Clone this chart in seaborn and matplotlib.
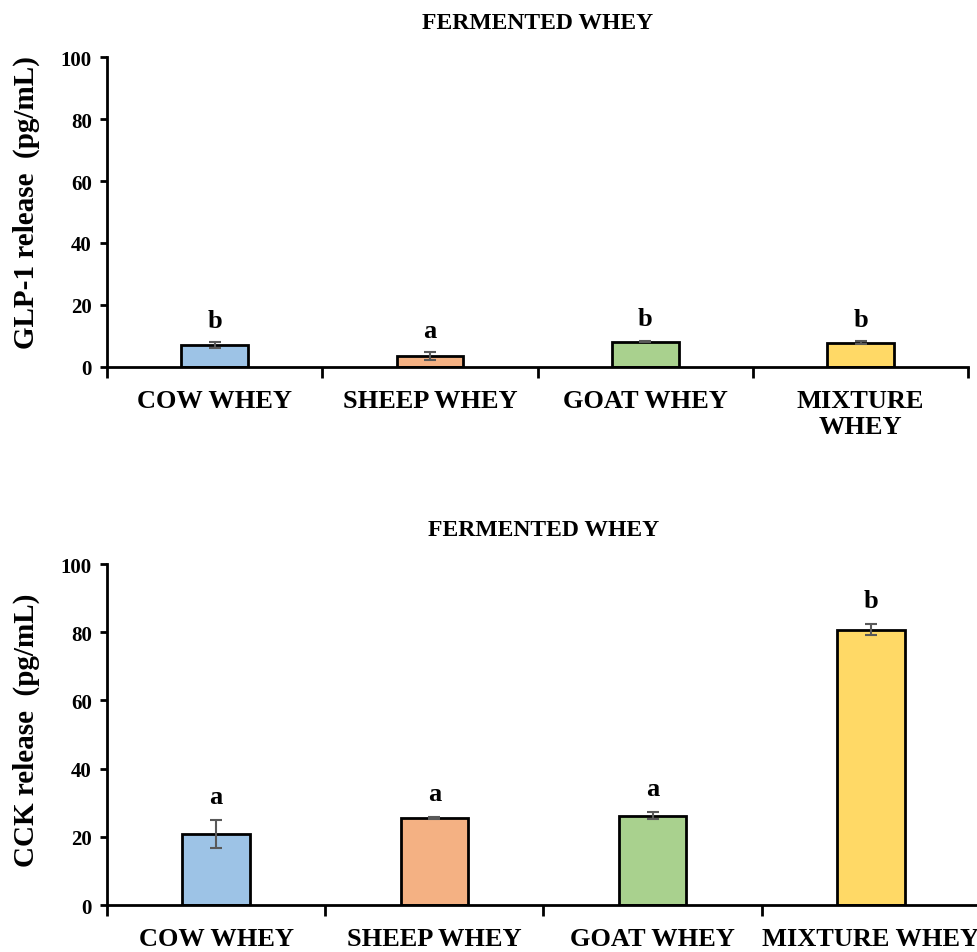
import matplotlib
matplotlib.use("Agg")
import matplotlib.pyplot as plt
import seaborn as sns
import pandas as pd
import numpy as np

categories = ["COW WHEY", "SHEEP WHEY", "GOAT WHEY", "MIXTURE WHEY"]
top_labels = ["COW WHEY", "SHEEP WHEY", "GOAT WHEY", "MIXTURE\nWHEY"]
glp1_mean = [7.1, 3.6, 8.2, 7.8]
glp1_err = [1.0, 1.3, 0.3, 0.5]
glp1_letters = ["b", "a", "b", "b"]
cck_mean = [20.8, 25.4, 26.2, 80.8]
cck_err = [4.0, 0.3, 1.1, 1.5]
cck_letters = ["a", "a", "a", "b"]
colors = ["#9DC3E6", "#F4B183", "#A9D18E", "#FFD966"]
title = "FERMENTED WHEY"

sns.set_style("ticks")
plt.rcParams["font.family"] = ["Liberation Serif", "DejaVu Serif"]
plt.rcParams["font.weight"] = "bold"
for k in ["text.color", "axes.labelcolor", "xtick.color", "ytick.color",
          "axes.edgecolor"]:
    plt.rcParams[k] = "black"

fig = plt.figure(figsize=(9.77, 9.53), dpi=100)
ax1 = fig.add_axes([0.1095, 0.6139, 0.8815, 0.3252])
ax2 = fig.add_axes([0.1095, 0.0493, 0.8935, 0.3578])


def draw(ax, means, errs, letters, ylabel, xlabels, label_xy):
    df = pd.DataFrame({"cat": categories, "val": means})
    sns.barplot(data=df, x="cat", y="val", hue="cat", palette=colors,
                order=categories, hue_order=categories, legend=False,
                saturation=1, width=0.31, edgecolor="black", linewidth=2,
                errorbar=None, ax=ax)
    x = np.arange(len(categories))
    ax.errorbar(x, means, yerr=errs, fmt="none", ecolor="#595959",
                elinewidth=1.5, capsize=4, capthick=1.5, zorder=5)
    for xi, m, e, l in zip(x, means, errs, letters):
        ax.text(xi, m + e + 7, l, ha="center", va="center",
                fontsize=19, fontweight="bold")
    ax.set_ylim(0, 100)
    ax.set_xlim(-0.5, 3.5)
    ax.set_yticks([0, 20, 40, 60, 80, 100])
    ax.set_yticklabels(["0", "20", "40", "60", "80", "100"], fontsize=15,
                       fontweight="bold")
    ax.set_xticks([-0.5, 0.5, 1.5, 2.5, 3.5])
    ax.set_xticklabels([])
    ax.set_xticks(x, minor=True)
    ax.set_xticklabels(xlabels, minor=True, fontsize=19, fontweight="bold",
                       linespacing=1.15)
    ax.tick_params(axis="x", which="minor", length=0, pad=16)
    ax.tick_params(axis="x", which="major", length=8, width=2, direction="out")
    ax.tick_params(axis="y", length=5, width=2, direction="out", pad=6)
    ax.set_xlabel("")
    ax.set_ylabel(ylabel, fontsize=21, fontweight="bold")
    ax.yaxis.set_label_coords(*label_xy)
    ax.set_title(title, fontsize=17, fontweight="bold", pad=21)
    for s in ["top", "right"]:
        ax.spines[s].set_visible(False)
    for s in ["left", "bottom"]:
        ax.spines[s].set_linewidth(2)


draw(ax1, glp1_mean, glp1_err, glp1_letters, "GLP-1 release  (pg/mL)",
     top_labels, (-0.078, 0.535))
draw(ax2, cck_mean, cck_err, cck_letters, "CCK release  (pg/mL)",
     categories, (-0.077, 0.515))

fig.savefig("out.png", dpi=100)
